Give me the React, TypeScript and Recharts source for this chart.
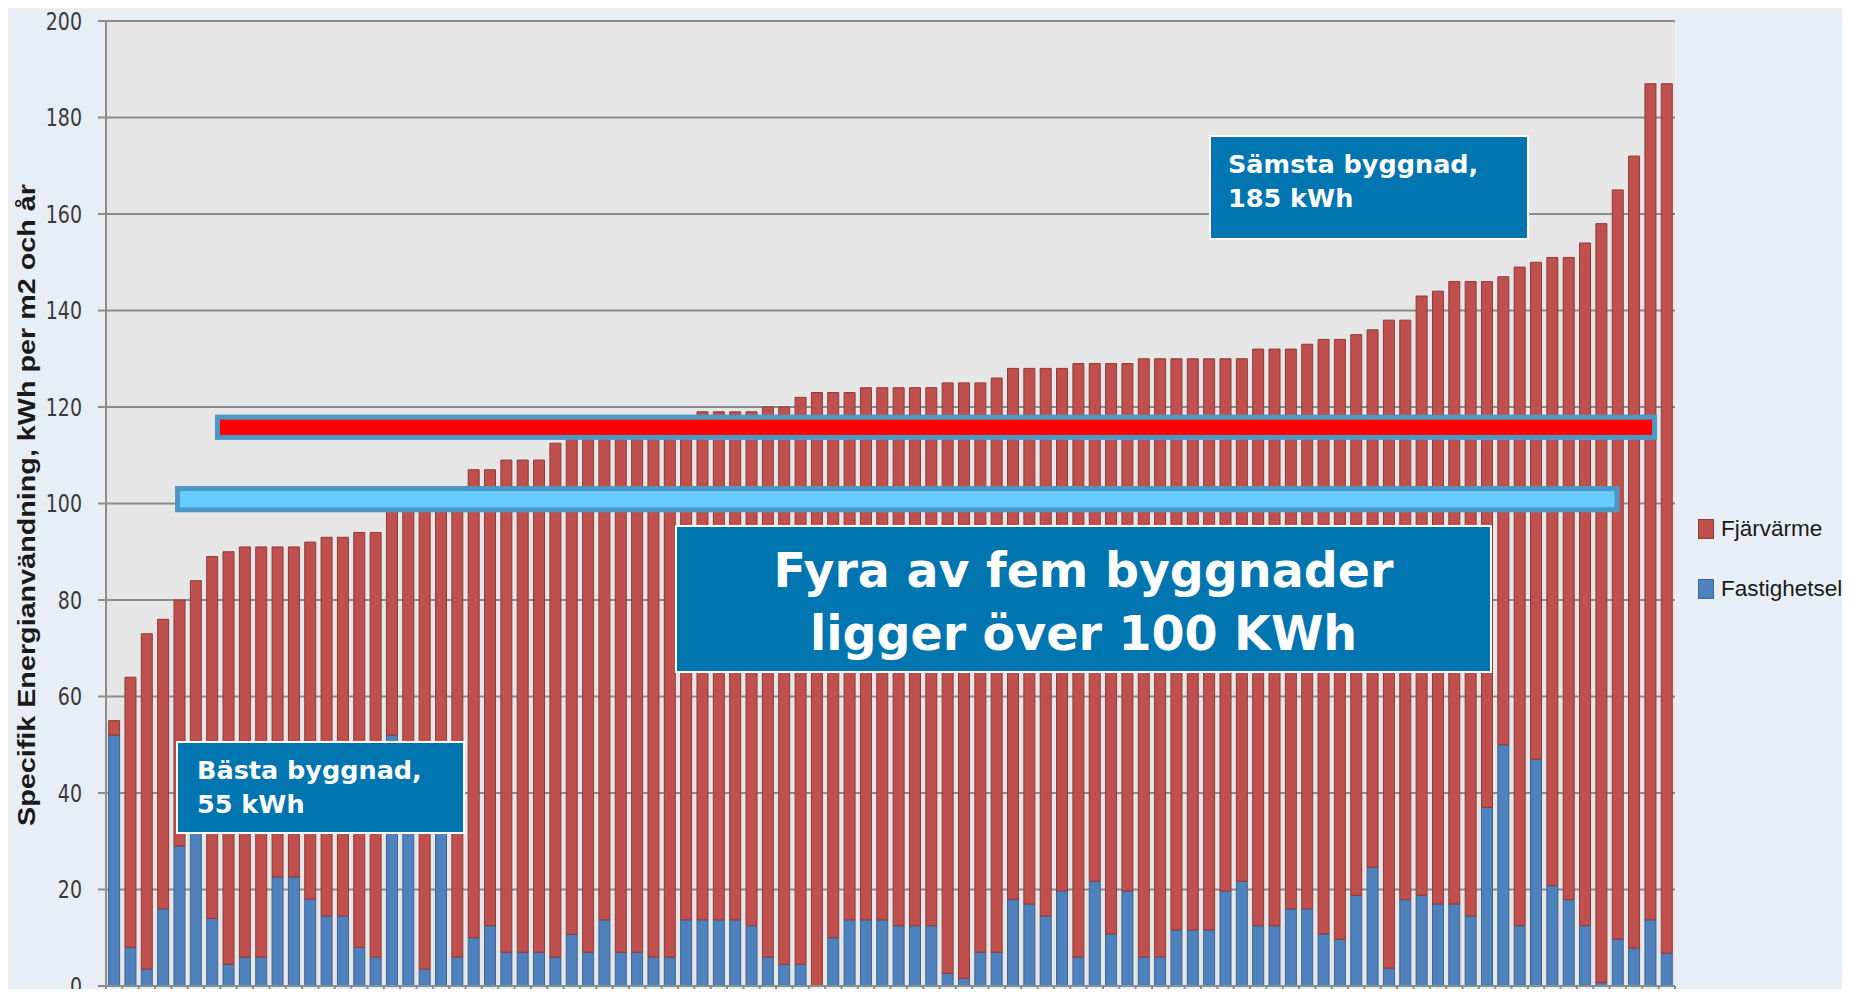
import { Bar, BarChart, CartesianGrid, Legend, ReferenceArea, XAxis, YAxis } from "recharts"

// Fastighetsel (blue, bottom) per building, sorted by total use
const fastighetsel = [
  52, 8, 3.5, 16, 29, 38, 14, 4.5, 6, 6, 22.6, 22.6, 18, 14.5, 14.5, 8, 6, 52, 40, 3.5,
  36, 6, 10, 12.5, 7, 7, 7, 6, 10.7, 7, 13.7, 7, 7, 6, 6, 13.7, 13.7, 13.7, 13.7, 12.5,
  6, 4.5, 4.5, 0, 10, 13.7, 13.7, 13.7, 12.5, 12.5, 12.5, 2.6, 1.6, 7, 7, 18, 17, 14.5, 19.7, 6,
  21.7, 10.8, 19.7, 6, 6, 11.6, 11.6, 11.6, 19.7, 21.7, 12.5, 12.5, 16, 16, 10.8, 9.7, 18.8, 24.6, 3.7, 17.9,
  18.8, 17, 17, 14.5, 37, 50, 12.5, 47, 20.8, 17.9, 12.5, 0.7, 9.7, 7.9, 13.7, 6.8,
]

// Fjärvärme (red, stacked on top)
const fjarrvarme = [
  3, 56, 69.5, 60, 51, 46, 75, 85.5, 85, 85, 68.4, 68.4, 74, 78.5, 78.5, 86, 88, 48, 60, 96.5,
  64, 94, 97, 94.5, 102, 102, 102, 106.5, 103.3, 108, 102.3, 110, 110, 112, 112, 104.3, 105.3, 105.3, 105.3, 106.5,
  114, 115.5, 117.5, 123, 113, 109.3, 110.3, 110.3, 111.5, 111.5, 111.5, 122.4, 123.4, 118, 119, 110, 111, 113.5, 108.3, 123,
  107.3, 118.2, 109.3, 124, 124, 118.4, 118.4, 118.4, 110.3, 108.3, 119.5, 119.5, 116, 117, 123.2, 124.3, 116.2, 111.4, 134.3, 120.1,
  124.2, 127, 129, 131.5, 109, 97, 136.5, 103, 130.2, 133.1, 141.5, 157.3, 155.3, 164.1, 173.3, 180.2,
]

const buildings = fastighetsel.map((_, i) => i + 1)
const yTicks = [0, 20, 40, 60, 80, 100, 120, 140, 160, 180, 200]

const data = buildings.map((b, i) => ({ b, el: fastighetsel[i], fjv: fjarrvarme[i] }))

const RED = "#C0504D"
const RED_EDGE = "#8E3B39"
const BLUE = "#4F81BD"
const BLUE_EDGE = "#3A6596"
const GRID = "#8C8C8C"
const BOX = "#0075B0"
const BAND_EDGE = "#4B98C4"

const W = 1850
const H = 997
const MARGIN = { top: 21, right: 175, bottom: 0, left: 0 }

const legendItems = [
  { name: "Fjärvärme", fill: RED, edge: RED_EDGE },
  { name: "Fastighetsel", fill: BLUE, edge: BLUE_EDGE },
]

function YTick({ x, y, payload }: any) {
  return (
    <g transform={`translate(${x},${y})`}>
      <text
        transform="scale(1,1.3)"
        textAnchor="end"
        dy="0.36em"
        fontFamily="DejaVu Sans"
        fontSize={19}
        fill="#3a3a3a"
      >
        {payload.value}
      </text>
    </g>
  )
}

// tick marks sit on the category boundaries, not the centres
function EdgeTick({ x, y, payload, index }: any) {
  const half = payload && payload.offset ? payload.offset : 8.17
  const last = index === buildings.length - 1
  return (
    <g stroke={GRID} strokeWidth={2}>
      <line x1={x - half} x2={x - half} y1={y} y2={y + 9} />
      {last && <line x1={x + half} x2={x + half} y1={y} y2={y + 9} />}
    </g>
  )
}

// the marker bands start/stop part way into a building slot
function bandShape(nBands: number, startIn: number, endIn: number, fill: string) {
  return (p: any) => {
    const band = p.width / nBands
    const x = p.x + startIn * band
    const w = p.width - startIn * band - endIn * band
    return <rect x={x} y={p.y} width={w} height={p.height} fill={fill} stroke={BAND_EDGE} strokeWidth={5} />
  }
}

function YTitle({ viewBox }: any) {
  const vb = viewBox && viewBox.height ? viewBox : { x: 0, y: 21, width: 106, height: 965 }
  const cx = vb.x + 27
  const cy = vb.y + vb.height / 2 + 1.5
  return (
    <text
      x={cx}
      y={cy}
      transform={`rotate(-90 ${cx} ${cy})`}
      textAnchor="middle"
      dominantBaseline="central"
      fontFamily="Liberation Sans"
      fontWeight="bold"
      fontSize={23}
      fill="#1a1a1a"
      textLength={642}
      lengthAdjust="spacingAndGlyphs"
    >
      Specifik Energianvändning, kWh per m2 och år
    </text>
  )
}

function LegendContent() {
  return (
    <div style={{ fontFamily: '"Liberation Sans", Arial', fontSize: 22.5, color: "#1a1a1a" }}>
      {legendItems.map((it) => (
        <div key={it.name} style={{ display: "flex", alignItems: "center", height: 20, marginBottom: 40 }}>
          <span
            style={{
              display: "inline-block",
              width: 14,
              height: 18,
              background: it.fill,
              border: `1px solid ${it.edge}`,
              marginRight: 7,
            }}
          />
          <span>{it.name}</span>
        </div>
      ))}
    </div>
  )
}

const boxStyle: React.CSSProperties = {
  position: "absolute",
  boxSizing: "border-box",
  background: BOX,
  border: "2px solid #ffffff",
  color: "#ffffff",
  fontFamily: '"DejaVu Sans", Verdana, sans-serif',
  fontWeight: "bold",
}

export default function App() {
  return (
    <div style={{ position: "relative", width: W, height: H, margin: -8, background: "#E8EEF6", overflow: "hidden" }}>
      <BarChart width={W} height={H} data={data} margin={MARGIN} barCategoryGap="16%">
        <CartesianGrid vertical={false} stroke={GRID} strokeWidth={2} fill="#E6E6E6" />
        <XAxis
          dataKey="b"
          height={11}
          interval={0}
          tickLine={false}
          tickSize={0}
          tickMargin={0}
          tick={<EdgeTick />}
          stroke={GRID}
          strokeWidth={2}
        />
        <YAxis
          domain={[0, 200]}
          ticks={yTicks}
          width={106}
          tick={<YTick />}
          tickSize={8}
          tickMargin={16}
          stroke={GRID}
          strokeWidth={2}
          interval={0}
          label={<YTitle />}
        />
        <Legend
          layout="horizontal"
          align="center"
          verticalAlign="middle"
          content={<LegendContent />}
          wrapperStyle={{ left: 1698, top: 519, width: 152, height: "auto" }}
        />
        <Bar dataKey="el" stackId="a" name="Fastighetsel" fill={BLUE} stroke={BLUE_EDGE} strokeWidth={1} isAnimationActive={false} />
        <Bar dataKey="fjv" stackId="a" name="Fjärvärme" fill={RED} stroke={RED_EDGE} strokeWidth={1} isAnimationActive={false} />
      </BarChart>

      {/* same frame again, on top, only for the two marker bands */}
      <div style={{ position: "absolute", left: 0, top: 0, pointerEvents: "none" }}>
        <BarChart width={W} height={H} data={data} margin={MARGIN} barCategoryGap="16%">
          <XAxis dataKey="b" height={11} tick={false} tickLine={false} axisLine={false} />
          <YAxis domain={[0, 200]} width={106} tick={false} tickLine={false} axisLine={false} />
          <Bar dataKey="el" stackId="a" fill="none" stroke="none" isAnimationActive={false} legendType="none" />
          <Bar dataKey="fjv" stackId="a" fill="none" stroke="none" isAnimationActive={false} legendType="none" />
          <ReferenceArea
            x1={8}
            x2={95}
            y1={113.7}
            y2={117.9}
            ifOverflow="visible"
            shape={bandShape(88, -0.18, 0.25, "#FF0000")}
          />
          <ReferenceArea
            x1={5}
            x2={93}
            y1={98.7}
            y2={103.1}
            ifOverflow="visible"
            shape={bandShape(89, 0.38, 0.55, "#66CCFF")}
          />
        </BarChart>
      </div>

      <div style={{ ...boxStyle, left: 176, top: 741, width: 289, height: 93, fontSize: 25.5, lineHeight: "34px", padding: "10px 0 0 19px" }}>
        Bästa byggnad,
        <br />
        55 kWh
      </div>
      <div style={{ ...boxStyle, left: 1209, top: 135, width: 320, height: 105, fontSize: 25.5, lineHeight: "34px", padding: "10px 0 0 17px" }}>
        Sämsta byggnad,
        <br />
        185 kWh
      </div>
      <div
        style={{
          ...boxStyle,
          left: 675,
          top: 525,
          width: 817,
          height: 148,
          fontSize: 47.5,
          lineHeight: "63px",
          textAlign: "center",
          display: "flex",
          flexDirection: "column",
          justifyContent: "center",
          paddingTop: 6,
        }}
      >
        <div>Fyra av fem byggnader</div>
        <div>ligger över 100 KWh</div>
      </div>
    </div>
  )
}
